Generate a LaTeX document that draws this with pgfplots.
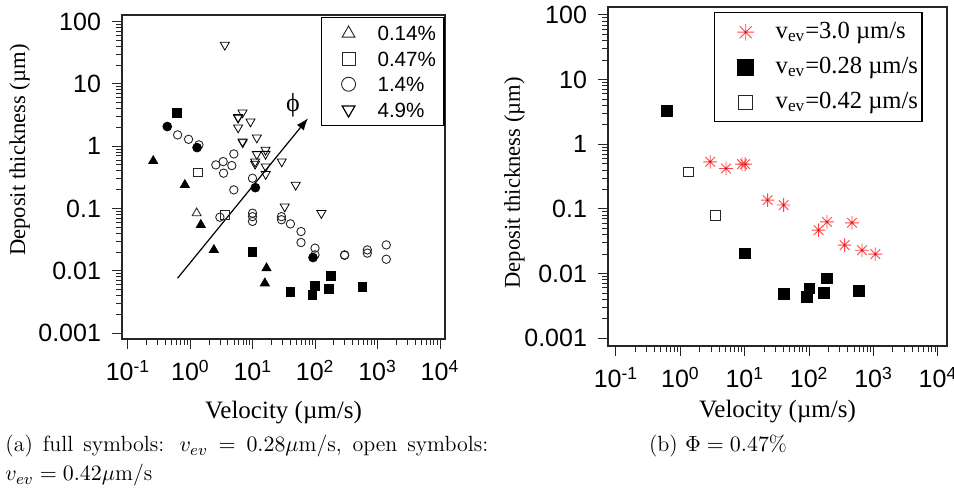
\documentclass[border=0pt]{standalone}
\usepackage{fontspec}
\usepackage{pgfplots}
\pgfplotsset{compat=1.18}
\usetikzlibrary{arrows.meta}
\newfontfamily\arial{Liberation Sans}
\newfontfamily\tnr{Liberation Serif}
\definecolor{starred}{HTML}{FF4545}

% 8-spoke asterisk with a dot in the middle
\pgfdeclareplotmark{star8}{%
  \pgfpathmoveto{\pgfqpoint{-\pgfplotmarksize}{0pt}}\pgfpathlineto{\pgfqpoint{\pgfplotmarksize}{0pt}}%
  \pgfpathmoveto{\pgfqpoint{0pt}{-\pgfplotmarksize}}\pgfpathlineto{\pgfqpoint{0pt}{\pgfplotmarksize}}%
  \pgfpathmoveto{\pgfqpoint{-0.707\pgfplotmarksize}{-0.707\pgfplotmarksize}}\pgfpathlineto{\pgfqpoint{0.707\pgfplotmarksize}{0.707\pgfplotmarksize}}%
  \pgfpathmoveto{\pgfqpoint{-0.707\pgfplotmarksize}{0.707\pgfplotmarksize}}\pgfpathlineto{\pgfqpoint{0.707\pgfplotmarksize}{-0.707\pgfplotmarksize}}%
  \pgfusepathqstroke
  \pgfpathcircle{\pgfpointorigin}{0.45pt}\pgfusepathqfill
}

\pgfplotsset{
  limgL/.style={legend image code/.code={\path[draw=none,fill=none] (-9.5pt,0pt) -- (14.5pt,0pt);\draw[##1] plot coordinates {(0pt,0pt)};}},
  limgR/.style={legend image code/.code={\path[draw=none,fill=none] (-13.5pt,0pt) -- (15pt,0pt);\draw[##1] plot coordinates {(0pt,0pt)};}},
  openmk/.style={only marks, mark options={draw=black!85, line width=0.45pt}},
}

\begin{document}
\begin{tikzpicture}
\useasboundingbox (0,0) rectangle (477pt,245.5pt);

% ---------------- panel (a)
\begin{loglogaxis}[
  scale only axis, anchor=south west,
  at={(61pt,76pt)}, width=161.5pt, height=162pt,
  xmin=0.0802, xmax=12020, ymin=0.000802, ymax=128,
  axis line style={line width=0.7pt, black!85},
  xtick pos=bottom, ytick pos=left, tick align=outside,
  major tick length=5pt, minor tick length=3pt,
  every tick/.append style={line width=0.5pt, black!85},
  xtick={0.1,1,10,100,1000,10000},
  minor xtick={0.2,0.3,0.4,0.5,0.6,0.7,0.8,0.9,2,3,4,5,6,7,8,9,20,30,40,50,60,70,80,90,200,300,400,500,600,700,800,900,2000,3000,4000,5000,6000,7000,8000,9000},
  xticklabels={10\textsuperscript{-1},10\textsuperscript{0},10\textsuperscript{1},10\textsuperscript{2},10\textsuperscript{3},10\textsuperscript{4}},
  ytick={0.001,0.01,0.1,1,10,100},
  minor ytick={0.002,0.003,0.004,0.005,0.006,0.007,0.008,0.009,0.02,0.03,0.04,0.05,0.06,0.07,0.08,0.09,0.2,0.3,0.4,0.5,0.6,0.7,0.8,0.9,2,3,4,5,6,7,8,9,20,30,40,50,60,70,80,90},
  yticklabels={0.001,0.01,0.1,1,10,100},
  ticklabel style={font=\arial\fontsize{12.5}{14}\selectfont},
  x tick label style={yshift=-2pt},
  y tick label style={xshift=-2pt},
  xlabel={\tnr\fontsize{12.5}{14}\selectfont Velocity (µm/s)},
  xlabel style={at={(axis description cs:0.5,-0.244)}, anchor=base},
  ylabel={\tnr\fontsize{11.3}{13}\selectfont Deposit thickness (µm)},
  ylabel style={at={(axis description cs:-0.300,0.583)}, anchor=base},
  legend cell align=left,
  legend style={at={(0.616,0.994)}, anchor=north west, draw=black, line width=0.6pt,
    inner xsep=4pt, inner ysep=1.6pt,
    font=\arial\fontsize{10.3}{12}\selectfont,
    nodes={inner xsep=0pt, inner ysep=2.1pt, text height=8pt, text depth=0.5pt}},
]
% open symbols, v_ev = 0.42 um/s
\addplot[openmk, mark=triangle, mark size=2.6pt, limgL, legend image post style={mark size=3.7pt}]
  coordinates {(1.26,0.084)};
\addlegendentry{0.14\%}
\addplot[openmk, mark=square, mark size=2.2pt, limgL, legend image post style={mark size=3.3pt}]
  coordinates {(1.33,0.378) (3.56,0.079)};
\addlegendentry{0.47\%}
\addplot[openmk, mark=o, mark size=2.1pt, limgL, legend image post style={mark size=3.5pt}]
  coordinates {(0.624,1.52) (0.935,1.29) (1.37,1.05) (4.97,0.752) (3.35,0.566) (2.56,0.501)
   (4.61,0.489) (3.4,0.369) (9.89,0.306) (4.97,0.199) (2.97,0.0725) (9.9,0.084) (9.9,0.074)
   (9.9,0.062) (28.8,0.074) (28.8,0.066) (40.1,0.0566) (59.3,0.0426) (59.3,0.0284)
   (99.3,0.0231) (99.3,0.018) (296,0.018) (296,0.0177) (684,0.0216) (684,0.0192)
   (1377,0.026) (1377,0.0153)};
\addlegendentry{1.4\%}
\addplot[openmk, mark=triangle, mark size=2.6pt, mark options={rotate=180}, limgL, legend image post style={mark size=3.7pt}]
  coordinates {(3.56,42.3) (6.84,3.46) (5.82,2.92) (5.82,2.85) (9.19,2.48) (5.82,1.99)
   (6.84,1.19) (6.9,1.15) (11.6,1.37) (11.6,0.744) (16.0,0.873) (16.0,0.75) (10.9,0.566)
   (10.9,0.52) (29.1,0.566) (16.1,0.471) (16.1,0.356) (48.7,0.239) (32.5,0.107) (125.6,0.084)};
\addlegendentry{4.9\%}
% full symbols, v_ev = 0.28 um/s
\addplot[only marks, forget plot, mark=triangle*, mark size=2.6pt, black]
  coordinates {(0.254,0.58) (0.816,0.239) (1.47,0.0546) (2.38,0.0216) (16.6,0.011) (15.6,0.0063)};
\addplot[only marks, forget plot, mark=square*, mark size=2.2pt, black]
  coordinates {(0.615,3.39) (9.89,0.0199) (181,0.0083) (98.2,0.0057) (40.1,0.0046)
   (90.2,0.0041) (164,0.0051) (569,0.0055)};
\addplot[only marks, forget plot, mark=*, mark size=2.2pt, black]
  coordinates {(0.426,2.07) (1.28,0.95) (11.0,0.216) (92.3,0.0163)};
\draw[-{Latex[length=6pt,width=4.5pt]}, line width=0.6pt] (axis cs:0.624,0.0076) -- (axis cs:76.7,2.81);
\node at (axis cs:44.2,4.6) {\tnr\fontsize{13}{14}\selectfont ϕ};
\end{loglogaxis}

% ---------------- panel (b)
\begin{loglogaxis}[
  scale only axis, anchor=south west,
  at={(304pt,72.5pt)}, width=169.5pt, height=169.5pt,
  xmin=0.0752, xmax=13800, ymin=0.000759, ymax=133,
  axis line style={line width=0.7pt, black!85},
  xtick pos=bottom, ytick pos=left, tick align=outside,
  major tick length=5pt, minor tick length=3pt,
  every tick/.append style={line width=0.5pt, black!85},
  xtick={0.1,1,10,100,1000,10000},
  minor xtick={0.2,0.3,0.4,0.5,0.6,0.7,0.8,0.9,2,3,4,5,6,7,8,9,20,30,40,50,60,70,80,90,200,300,400,500,600,700,800,900,2000,3000,4000,5000,6000,7000,8000,9000},
  xticklabels={10\textsuperscript{-1},10\textsuperscript{0},10\textsuperscript{1},10\textsuperscript{2},10\textsuperscript{3},10\textsuperscript{4}},
  ytick={0.001,0.01,0.1,1,10,100},
  minor ytick={0.002,0.003,0.004,0.005,0.006,0.007,0.008,0.009,0.02,0.03,0.04,0.05,0.06,0.07,0.08,0.09,0.2,0.3,0.4,0.5,0.6,0.7,0.8,0.9,2,3,4,5,6,7,8,9,20,30,40,50,60,70,80,90},
  yticklabels={0.001,0.01,0.1,1,10,100},
  ticklabel style={font=\arial\fontsize{12.5}{14}\selectfont},
  x tick label style={yshift=-2pt},
  y tick label style={xshift=-2pt},
  xlabel={\tnr\fontsize{12.5}{14}\selectfont Velocity (µm/s)},
  xlabel style={at={(axis description cs:0.5,-0.212)}, anchor=base},
  ylabel={\tnr\fontsize{11.3}{13}\selectfont Deposit thickness (µm)},
  ylabel style={at={(axis description cs:-0.260,0.481)}, anchor=base},
  legend cell align=left,
  legend style={at={(0.313,0.985)}, anchor=north west, draw=black, line width=0.6pt,
    inner xsep=2pt, inner ysep=1pt,
    font=\tnr\fontsize{12.3}{14}\selectfont,
    nodes={inner xsep=0pt, inner ysep=2.75pt, text height=9pt, text depth=3pt}},
]
\addplot[only marks, mark=star8, mark size=3.4pt, mark options={draw=starred, fill=red!70!black, line width=0.45pt}, limgR, legend image post style={mark size=4.2pt}]
  coordinates {(2.91,0.536) (5.10,0.423) (9.06,0.493) (10.1,0.493) (22.6,0.137) (40.1,0.115)
   (140,0.047) (189,0.063) (462,0.061) (355,0.0275) (661,0.023) (1062,0.020)};
\addlegendentry{v\textsubscript{ev}=3.0 µm/s}
\addplot[only marks, mark=square*, mark size=2.7pt, black, limgR, legend image post style={mark size=4pt}]
  coordinates {(0.62,3.31) (9.94,0.0205) (40.1,0.0048) (101,0.0059) (93.3,0.00436)
   (167,0.0050) (189,0.0084) (585,0.0054)};
\addlegendentry{v\textsubscript{ev}=0.28 µm/s}
\addplot[openmk, mark=square, mark size=2.4pt, limgR, legend image post style={mark size=3.5pt}]
  coordinates {(1.34,0.375) (3.48,0.080)};
\addlegendentry{v\textsubscript{ev}=0.42 µm/s}
\end{loglogaxis}

% ---------------- captions
\node[anchor=base west, inner sep=0pt] at (2.5pt,19.5pt)
  {\fontsize{11}{13}\selectfont\makebox[241.5pt][s]{(a) full symbols: $v_{ev} = 0.28\mu$m/s, open symbols:}};
\node[anchor=base west, inner sep=0pt] at (2.5pt,5pt)
  {\fontsize{11}{13}\selectfont $v_{ev} = 0.42\mu$m/s};
\node[anchor=base, inner sep=0pt] at (359pt,19.5pt)
  {\fontsize{11}{13}\selectfont (b) $\Phi = 0.47\%$};
\end{tikzpicture}
\end{document}
